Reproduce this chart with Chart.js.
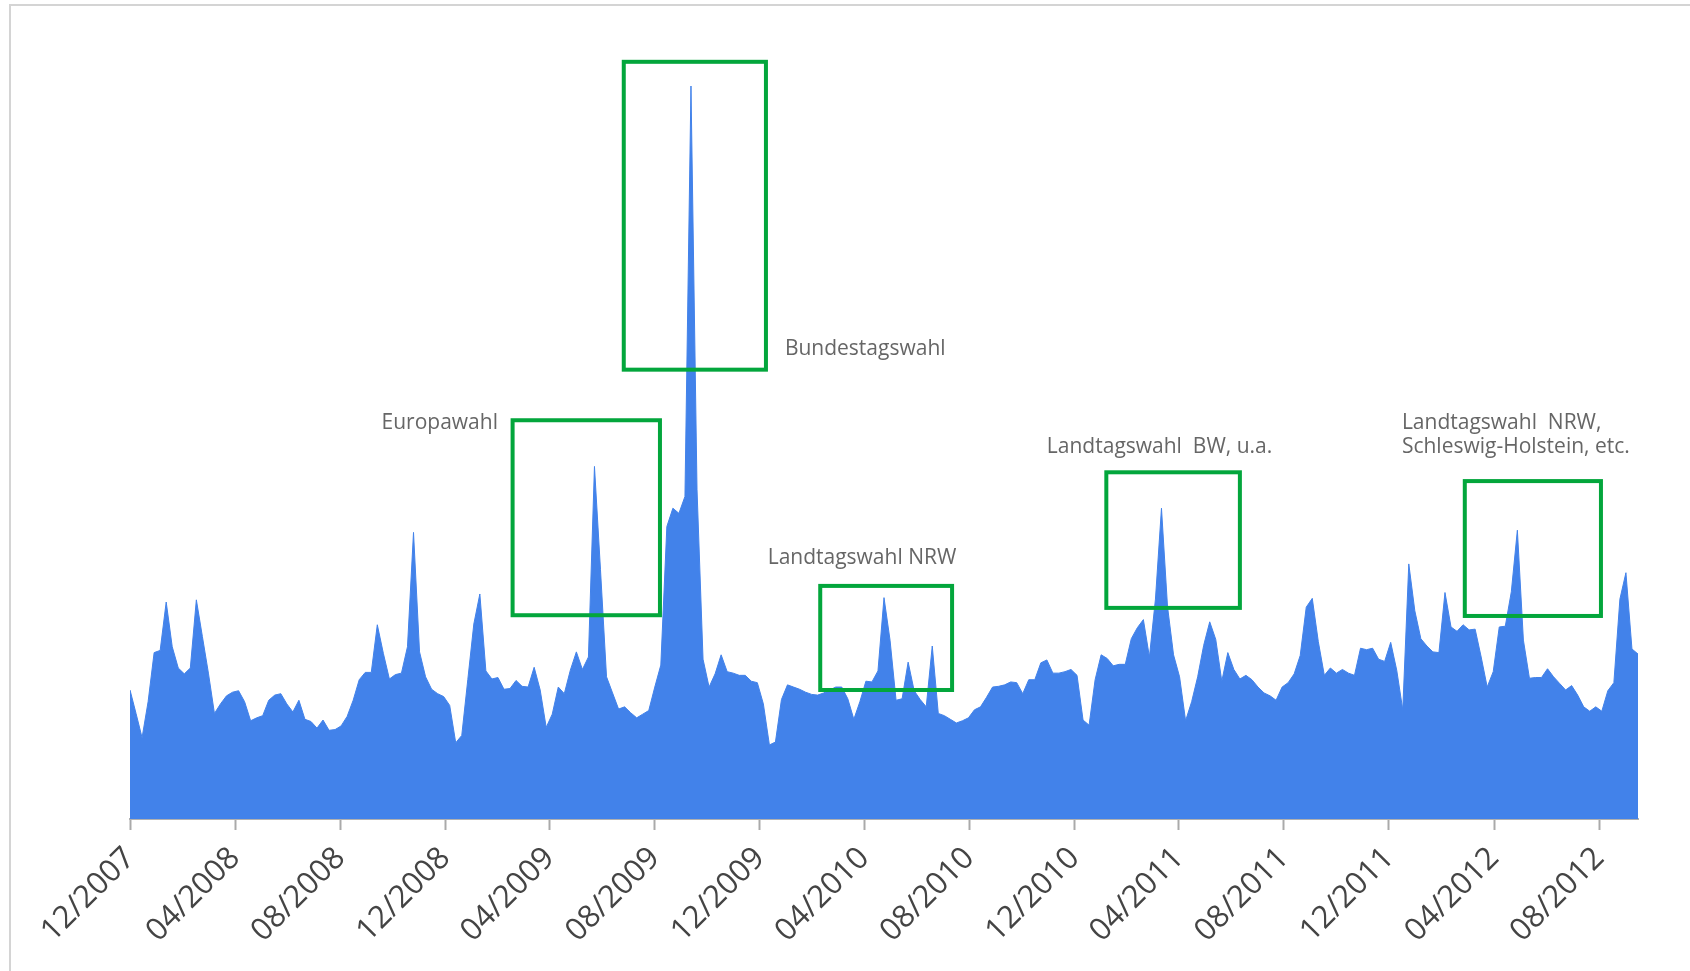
<!DOCTYPE html>
<html lang="de">
<head>
<meta charset="utf-8">
<title>Suchinteresse Wahlen 2007-2012</title>
<script src="https://cdn.jsdelivr.net/npm/chart.js@4.4.1/dist/chart.umd.min.js"></script>
<style>
	html, body { margin: 0; padding: 0; background: #fff; overflow: hidden; }
	#frame { position: absolute; left: 9px; top: 4px; width: 1720px; height: 1000px; border-top: 2px solid #d4d4d4; border-left: 2px solid #d4d4d4; }
	#wrap { position: absolute; left: 0; top: 0; width: 1690px; height: 971px; }
</style>
</head>
<body>
<div id="frame"></div>
<div id="wrap"><canvas id="chart"></canvas></div>
<script>
// Erste Woche der Zeitreihe (wöchentliche Werte)
const firstWeek = [2007, 12, 1];

// Wöchentliche Werte, pro Jahr
const values2007 = [17.6, 14.4, 11.1, 16.0, 22.7];
const values2008 = [23.0, 29.6, 23.5, 20.6, 19.8, 20.6, 29.9, 24.9, 19.9, 14.4,
	15.7, 16.8, 17.3, 17.5, 16.0, 13.4, 13.8, 14.1, 16.2, 16.9,
	17.1, 15.7, 14.6, 16.2, 13.6, 13.3, 12.4, 13.5, 12.1, 12.2,
	12.7, 14.0, 16.2, 19.0, 20.0, 20.0, 26.5, 22.6, 19.1, 19.7,
	19.9, 23.5, 39.1, 22.8, 19.4, 17.7, 17.1, 16.7, 15.5, 10.4,
	11.4, 19.0];
const values2009 = [26.6, 30.7, 20.2, 19.1, 19.3, 17.7, 17.8, 18.9, 18.1, 18.0,
	20.7, 17.6, 12.5, 14.3, 18.0, 17.1, 20.3, 22.8, 20.4, 22.1,
	48.1, 34.0, 19.4, 17.2, 15.0, 15.3, 14.5, 13.8, 14.3, 14.8,
	18.0, 21.0, 39.9, 42.4, 41.7, 44.0, 100, 45.0, 21.8, 18.0,
	19.8, 22.4, 20.1, 19.9, 19.6, 19.6, 18.8, 18.6, 15.7, 10.1,
	10.5, 16.3];
const values2010 = [18.3, 18.0, 17.7, 17.3, 17.0, 16.9, 17.2, 17.6, 18.0, 18.0,
	16.4, 13.6, 16.0, 18.8, 18.7, 20.2, 30.2, 24.4, 16.2, 16.4,
	21.4, 17.5, 16.3, 15.3, 23.6, 14.4, 14.1, 13.6, 13.1, 13.4,
	13.8, 14.9, 15.3, 16.6, 18.0, 18.1, 18.3, 18.7, 18.6, 17.1,
	19.0, 19.0, 21.3, 21.7, 19.9, 19.9, 20.1, 20.4, 19.6, 13.5,
	12.8, 19.0];
const values2011 = [22.4, 21.9, 20.9, 21.1, 21.1, 24.6, 26.1, 27.2, 22.1, 30.0,
	42.4, 29.0, 22.4, 19.4, 13.4, 16.0, 19.4, 23.7, 26.9, 24.5,
	18.8, 22.7, 20.4, 19.1, 19.6, 19.0, 18.0, 17.2, 16.8, 16.2,
	18.0, 18.6, 19.8, 22.3, 28.9, 30.1, 24.2, 19.6, 20.6, 19.9,
	20.4, 19.9, 19.6, 23.3, 23.1, 23.3, 21.8, 21.5, 24.1, 20.3,
	14.9, 34.8, 28.4];
const values2012 = [24.6, 23.6, 22.8, 22.7, 30.9, 26.2, 25.6, 26.5, 25.8, 25.9,
	22.1, 18.0, 20.1, 26.2, 26.3, 31.0, 39.4, 24.4, 19.2, 19.3,
	19.3, 20.5, 19.4, 18.5, 17.6, 18.2, 16.9, 15.3, 14.7, 15.3,
	14.7, 17.5, 18.6, 30.0, 33.6, 23.2, 22.5];

// Beschriftungen der x-Achse (Monatsanfang)
const tickLabels = ['12/2007', '04/2008', '08/2008', '12/2008', '04/2009', '08/2009', '12/2009',
	'04/2010', '08/2010', '12/2010', '04/2011', '08/2011', '12/2011', '04/2012', '08/2012'];

// Markierte Wahlen: Zeitraum in Tagen ab der ersten Woche, Höhe in Werten
const electionBoxes = [
	{ from: 444, to: 615, top: 54.4, bottom: 27.8 },
	{ from: 573, to: 738, top: 103.3, bottom: 61.3 },
	{ from: 801, to: 954, top: 31.8, bottom: 17.6 },
	{ from: 1133, to: 1288, top: 47.3, bottom: 28.8 },
	{ from: 1549, to: 1707, top: 46.1, bottom: 27.7 }
];
const electionLabels = [
	{ text: 'Europawahl', day: 427, value: 54.0, align: 'right' },
	{ text: 'Bundestagswahl', day: 760, value: 64.1, align: 'left' },
	{ text: 'Landtagswahl NRW', day: 740, value: 35.6, align: 'left' },
	{ text: 'Landtagswahl  BW, u.a.', day: 1064, value: 50.7, align: 'left' },
	{ text: 'Landtagswahl  NRW,', day: 1476, value: 54.0, align: 'left' },
	{ text: 'Schleswig-Holstein, etc.', day: 1476, value: 50.7, align: 'left' }
];

const dayMs = 86400000;
const startMs = Date.UTC(firstWeek[0], firstWeek[1] - 1, firstWeek[2]);

// Tage zwischen erster Woche und Monatsanfang "MM/YYYY"
function daysFromStart(label) {
	const [m, y] = label.split('/').map(Number);
	return (Date.UTC(y, m - 1, 1) - startMs) / dayMs;
}

const weeklyValues = [].concat(values2007, values2008, values2009, values2010, values2011, values2012);
const points = weeklyValues.map((v, i) => ({ x: i * 7, y: v }));
const tickDays = tickLabels.map(daysFromStart);

// Plugin für die grünen Rahmen und die Texte
const electionPlugin = {
	id: 'elections',
	afterDatasetsDraw(chart) {
		const { ctx, scales: { x, y } } = chart;
		ctx.save();
		ctx.strokeStyle = '#03a63c';
		ctx.lineWidth = 4;
		electionBoxes.forEach((b) => {
			const x0 = x.getPixelForValue(b.from);
			const x1 = x.getPixelForValue(b.to);
			const y0 = y.getPixelForValue(b.top);
			const y1 = y.getPixelForValue(b.bottom);
			ctx.strokeRect(x0, y0, x1 - x0, y1 - y0);
		});
		ctx.font = '21px "Open Sans"';
		ctx.fillStyle = '#666666';
		ctx.textBaseline = 'middle';
		electionLabels.forEach((l) => {
			ctx.textAlign = l.align;
			ctx.fillText(l.text, x.getPixelForValue(l.day), y.getPixelForValue(l.value));
		});
		ctx.restore();
	}
};

new Chart(document.getElementById('chart'), {
	type: 'line',
	data: {
		datasets: [{
			data: points,
			fill: 'origin',
			backgroundColor: '#4282ea',
			borderColor: '#4282ea',
			borderWidth: 1,
			pointRadius: 0,
			tension: 0
		}]
	},
	options: {
		responsive: true,
		maintainAspectRatio: false,
		animation: false,
		layout: { padding: { left: 130, right: 52, top: 86, bottom: 0 } },
		plugins: {
			legend: { display: false },
			tooltip: { enabled: false }
		},
		scales: {
			x: {
				type: 'linear',
				min: 0,
				max: (weeklyValues.length - 1) * 7,
				afterBuildTicks: (scale) => {
					scale.ticks = tickDays.map((d) => ({ value: d }));
				},
				afterFit: (scale) => {
					scale.height = 152;
				},
				grid: {
					drawOnChartArea: false,
					tickLength: 11,
					tickWidth: 2,
					tickColor: '#aaaaaa'
				},
				border: { color: '#b0b0b0', width: 2 },
				ticks: {
					autoSkip: false,
					minRotation: 45,
					maxRotation: 45,
					padding: 10,
					color: '#444444',
					font: { family: 'Open Sans', size: 31 },
					callback: (value) => tickLabels[tickDays.indexOf(value)]
				}
			},
			y: {
				display: false,
				min: 0,
				max: 100
			}
		}
	},
	plugins: [electionPlugin]
});
</script>
</body>
</html>
